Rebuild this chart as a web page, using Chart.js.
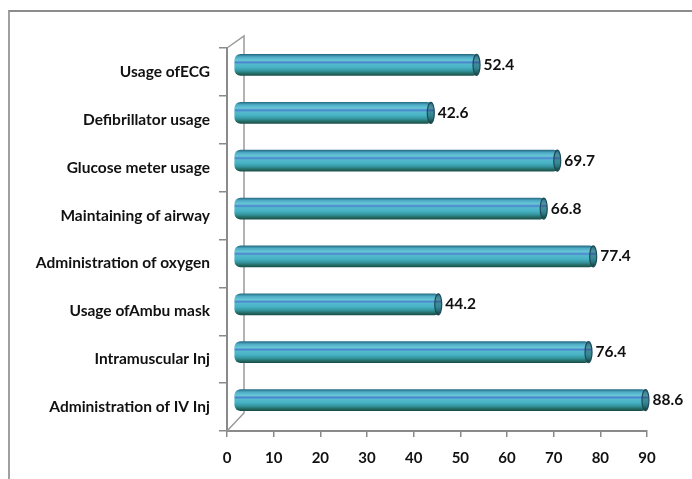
<!DOCTYPE html>
<html>
<head>
<meta charset="utf-8">
<script src="https://cdn.jsdelivr.net/npm/chart.js@4.4.1/dist/chart.umd.min.js"></script>
<style>
  html, body { margin: 0; padding: 0; background: #fff; }
  #frame {
    position: absolute; left: 8px; top: 10px; width: 700px; height: 480px;
    border-top: 2px solid #8c8c8c; border-left: 2px solid #a0a0a0;
  }
  #wrap { position: absolute; left: 0; top: 0; width: 692px; height: 479px; }
</style>
</head>
<body>
<div id="frame"></div>
<div id="wrap"><canvas id="c" width="692" height="479"></canvas></div>
<script>
// Skills practised, percentage of respondents
const categories = [
  'Usage ofECG',
  'Defibrillator usage',
  'Glucose meter usage',
  'Maintaining of airway',
  'Administration of oxygen',
  'Usage ofAmbu mask',
  'Intramuscular Inj',
  'Administration of IV Inj'
];
const values = [52.4, 42.6, 69.7, 66.8, 77.4, 44.2, 76.4, 88.6];
const xTicks = [0, 10, 20, 30, 40, 50, 60, 70, 80, 90];

const FONT = 'Lato, "Open Sans", sans-serif';
const DEPTH_X = 7, DEPTH_Y = -7;   // bars sit in the middle of the 3D depth
const BAR_H = 21;

function cylinderFill(ctx, yc, h, dark) {
  const g = ctx.createLinearGradient(0, yc - h / 2, 0, yc + h / 2);
  const k = dark ? 0.75 : 1;
  const c = (r, gg, b) => `rgb(${Math.round(r*k)},${Math.round(gg*k)},${Math.round(b*k)})`;
  g.addColorStop(0.00, c(40, 110, 135));
  g.addColorStop(0.12, c(78, 172, 198));
  g.addColorStop(0.28, c(104, 200, 214));
  g.addColorStop(0.38, c(74, 130, 205));
  g.addColorStop(0.46, c(84, 186, 206));
  g.addColorStop(0.62, c(72, 178, 196));
  g.addColorStop(0.78, c(52, 150, 160));
  g.addColorStop(0.90, c(38, 112, 104));
  g.addColorStop(1.00, c(26, 80, 78));
  return g;
}

// 3D back wall outline behind the bars
const wallPlugin = {
  id: 'wall',
  beforeDatasetsDraw(chart) {
    const { ctx, chartArea: a } = chart;
    const dx = 17, dy = -12;
    ctx.save();
    ctx.strokeStyle = '#9a9a9a';
    ctx.lineWidth = 1.5;
    ctx.beginPath();
    ctx.moveTo(a.left, a.top);
    ctx.lineTo(a.left + dx, a.top + dy);
    ctx.lineTo(a.left + dx, a.bottom - 18);
    ctx.lineTo(a.left, a.bottom);
    ctx.stroke();
    ctx.restore();
  }
};

// Shift bars into depth, shade them as cylinders, add end caps and value labels
const cylinderPlugin = {
  id: 'cylinder',
  beforeDatasetsDraw(chart) {
    const ctx = chart.ctx;
    chart.getDatasetMeta(0).data.forEach((el) => {
      el.options = Object.assign({}, el.options, {
        backgroundColor: cylinderFill(ctx, el.y, el.height, false)
      });
    });
    ctx.save();
    ctx.translate(DEPTH_X, DEPTH_Y);
  },
  afterDatasetsDraw(chart) {
    const ctx = chart.ctx;
    const meta = chart.getDatasetMeta(0);
    meta.data.forEach((el) => {
      const h = el.height;
      ctx.save();
      ctx.beginPath();
      ctx.ellipse(el.x - 2, el.y, 3.5, h / 2, 0, 0, Math.PI * 2);
      ctx.fillStyle = cylinderFill(ctx, el.y, h, true);
      ctx.fill();
      ctx.strokeStyle = '#1d4a5a';
      ctx.lineWidth = 1.2;
      ctx.stroke();
      ctx.restore();
    });
    ctx.restore();

    ctx.save();
    ctx.font = `bold 15.5px ${FONT}`;
    ctx.fillStyle = '#111';
    ctx.textAlign = 'left';
    ctx.textBaseline = 'middle';
    meta.data.forEach((el, i) => {
      ctx.fillText(values[i].toFixed(1), el.x + DEPTH_X + 5, el.y + DEPTH_Y);
    });
    ctx.restore();
  }
};

new Chart(document.getElementById('c'), {
  type: 'bar',
  data: {
    labels: categories,
    datasets: [{
      data: values,
      barThickness: BAR_H,
      borderWidth: 0,
      borderRadius: 6,
      borderSkipped: false,
      backgroundColor: '#4ab0c4'
    }]
  },
  options: {
    indexAxis: 'y',
    responsive: false,
    animation: false,
    layout: { padding: { top: 48, right: 45, bottom: 0, left: 0 } },
    plugins: { legend: { display: false }, tooltip: { enabled: false } },
    scales: {
      x: {
        min: 0, max: 90,
        afterBuildTicks(scale) { scale.ticks = xTicks.map(v => ({ value: v })); },
        afterFit(scale) { scale.height = 48; },
        grid: { drawOnChartArea: false, tickLength: 6, color: '#8a8a8a', lineWidth: 1.5 },
        border: { color: '#8a8a8a', width: 2 },
        ticks: { color: '#111', font: { family: FONT, size: 15, weight: 'bold' }, padding: 12 }
      },
      y: {
        afterFit(scale) { scale.width = 227; },
        grid: { drawOnChartArea: false, offset: true, tickLength: 8, color: '#8a8a8a', lineWidth: 1.5 },
        border: { color: '#8a8a8a', width: 2 },
        ticks: { color: '#111', font: { family: FONT, size: 15.5, weight: 'bold' }, padding: 9 }
      }
    }
  },
  plugins: [wallPlugin, cylinderPlugin]
});
</script>
</body>
</html>
